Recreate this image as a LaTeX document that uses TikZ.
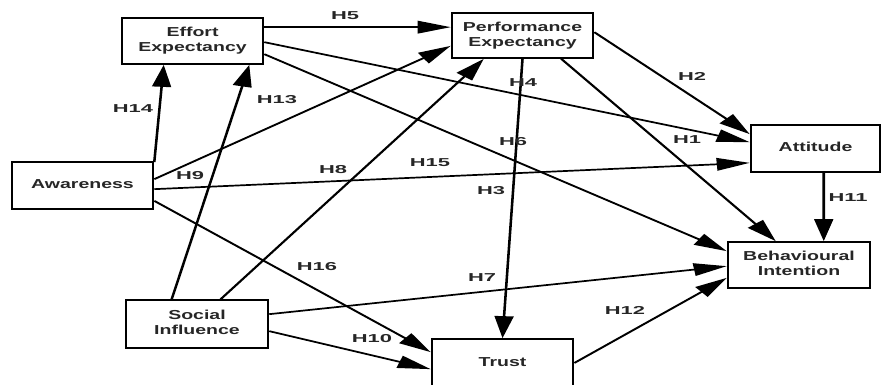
\documentclass[tikz,border=0pt]{standalone}
\usepackage{fontspec}
\setmainfont{Liberation Sans}
\usepackage{graphicx}
\usetikzlibrary{arrows.meta}
\newcommand{\boxtext}[1]{\bfseries\begin{tabular}{@{}c@{}}#1\end{tabular}}
\newcommand{\hlab}[1]{\scalebox{1.27}[1]{\bfseries #1}}
\begin{document}
\begin{tikzpicture}[x=1pt,y=1pt]
\useasboundingbox (0,0) rectangle (883,-384);
\begin{scope}[transform canvas={xscale=1.5}, x=0.66667pt, y=1pt,
  cbox/.style={draw, line width=1.7pt, inner sep=0pt, font=\fontsize{13}{15}\selectfont, text=black!85},
  hyp/.style={font=\fontsize{11.5}{12}\selectfont, inner sep=0pt, text=black!85},
  arr/.style={line width=1.7pt, -{Triangle[length=22pt,width=12.5pt]}}]
% boxes
\node[cbox, minimum width=94pt, minimum height=46pt] (ee) at (192.5,-41) {\boxtext{Effort\\Expectancy}};
\node[cbox, minimum width=94pt, minimum height=45pt] (pe) at (522.5,-35.5) {\boxtext{Performance\\Expectancy}};
\node[cbox, minimum width=86pt, minimum height=47pt] (att) at (815.5,-148.5) {\boxtext{Attitude}};
\node[cbox, minimum width=94pt, minimum height=47pt] (aw) at (82.5,-185.5) {\boxtext{Awareness}};
\node[cbox, minimum width=94.67pt, minimum height=48pt] (si) at (197,-324) {\boxtext{Social\\Influence}};
\node[cbox, minimum width=94pt, minimum height=48pt] (tr) at (502.5,-363) {\boxtext{Trust}};
\node[cbox, minimum width=94.67pt, minimum height=46pt] (bi) at (799,-265) {\boxtext{Behavioural\\Intention}};
% connectors
\draw[arr] ([yshift=-10pt]ee.north east) -- ([yshift=-15pt]pe.north west);
\draw[arr] ([yshift=-25pt]ee.north east) -- ([yshift=-18pt]att.north west);
\draw[arr] ([yshift=-37pt]ee.north east) -- ([yshift=-10pt]bi.north west);
\draw[arr] ([yshift=-20pt]pe.north east) -- ([yshift=-10pt]att.north west);
\draw[arr] ([xshift=-22pt]pe.south east) -- ([xshift=32.67pt]bi.north west);
\draw[arr] (pe.south) -- (tr.north);
\draw[arr] ([yshift=-1pt]aw.north east) -- ([xshift=28.67pt]ee.south west);
\draw[arr] ([yshift=-18pt]aw.north east) -- ([yshift=13pt]pe.south west);
\draw[arr] ([yshift=-28pt]aw.north east) -- ([yshift=10pt]att.south west);
\draw[arr] ([yshift=9pt]aw.south east) -- ([yshift=-14pt]tr.north west);
\draw[arr] ([xshift=31.33pt]si.north west) -- ([xshift=-10pt]ee.south east);
\draw[arr] ([xshift=64pt]si.north west) -- ([xshift=22pt]pe.south west);
\draw[arr] ([yshift=-15pt]si.north east) -- ([yshift=-25pt]bi.north west);
\draw[arr] ([yshift=-32pt]si.north east) -- ([yshift=-31pt]tr.north west);
\draw[arr] ([xshift=49.33pt]att.south west) -- ([xshift=64.67pt]bi.north west);
\draw[arr] (tr.east) -- ([yshift=11pt]bi.south west);
% labels
\node[hyp] (h5) at (345,-16) {\hlab{H5}};
\node[hyp] (h14) at (133,-109) {\hlab{H14}};
\node[hyp] (h13) at (277,-100) {\hlab{H13}};
\node[hyp] (h9) at (190,-176) {\hlab{H9}};
\node[hyp] (h4) at (523,-83) {\hlab{H4}};
\node[hyp] (h2) at (692,-76) {\hlab{H2}};
\node[hyp] (h1) at (687,-140) {\hlab{H1}};
\node[hyp] (h6) at (513,-142) {\hlab{H6}};
\node[hyp] (h8) at (333,-170) {\hlab{H8}};
\node[hyp] (h15) at (430,-163) {\hlab{H15}};
\node[hyp] (h3) at (491,-191) {\hlab{H3}};
\node[hyp] (h16) at (317,-267) {\hlab{H16}};
\node[hyp] (h7) at (482,-278) {\hlab{H7}};
\node[hyp] (h10) at (372,-339) {\hlab{H10}};
\node[hyp] (h12) at (625,-310) {\hlab{H12}};
\node[hyp] (h11) at (848,-198) {\hlab{H11}};
\end{scope}
\end{tikzpicture}
\end{document}
